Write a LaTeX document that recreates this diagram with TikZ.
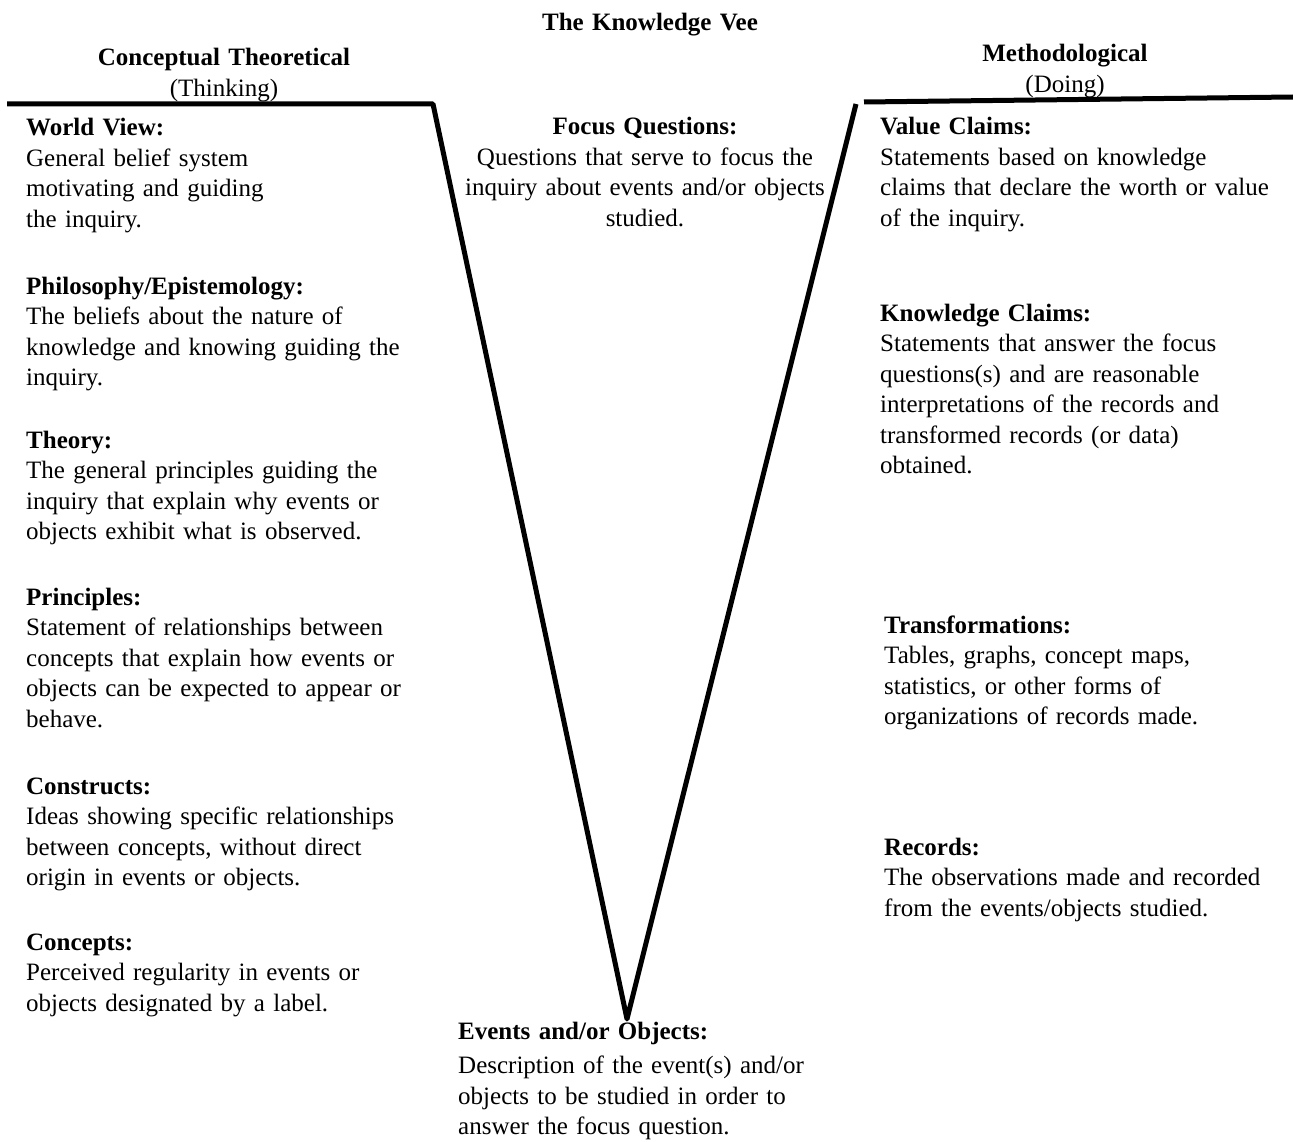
\documentclass[tikz,border=0pt]{standalone}
\usepackage{fontspec}
\setmainfont{Liberation Serif}
\begin{document}
\begin{tikzpicture}[x=1pt,y=-1pt,
  txt/.style={inner sep=0pt, anchor=base west, text width=430pt, align=left, font=\fontsize{25}{30.5}\selectfont},
  ctxt/.style={inner sep=0pt, anchor=base, text width=500pt, align=center, font=\fontsize{25}{30.5}\selectfont},
  vee/.style={line width=5pt, line join=round},
  bar/.style={line width=5pt}]
\useasboundingbox[fill=white] (0,0) rectangle (1293,1142);

% Vee corners
\coordinate (hl) at (7,104);
\coordinate (tl) at (433,104);
\coordinate (ap) at (627,1019);
\coordinate (tr) at (856,104);
\coordinate (hr1) at (864,102);
\coordinate (hr2) at (1293,97);
\draw[vee] (hl) -- (tl) -- (ap) -- (tr);
\draw[bar] (hr1) -- (hr2);

% headers
\node[ctxt] (title) at (650,31) {\textbf{The Knowledge Vee}};
\node[ctxt] (ct) at (224,66) {\textbf{Conceptual Theoretical}\\(Thinking)};
\node[ctxt] (me) at (1065,62) {\textbf{Methodological}\\(Doing)};

% left column
\node[txt] (wv) at (26,136) {\textbf{World View:}\\General belief system\\motivating and guiding\\the inquiry.};
\node[txt] (ph) at (26,294) {\textbf{Philosophy/Epistemology:}\\The beliefs about the nature of\\knowledge and knowing guiding the\\inquiry.};
\node[txt] (th) at (26,448) {\textbf{Theory:}\\The general principles guiding the\\inquiry that explain why events or\\objects exhibit what is observed.};
\node[txt] (pr) at (26,605) {\textbf{Principles:}\\Statement of relationships between\\concepts that explain how events or\\objects can be expected to appear or\\behave.};
\node[txt] (cs) at (26,794) {\textbf{Constructs:}\\Ideas showing specific relationships\\between concepts, without direct\\origin in events or objects.};
\node[txt] (cc) at (26,950) {\textbf{Concepts:}\\Perceived regularity in events or\\objects designated by a label.};

% centre
\node[ctxt] (fq) at (645,135) {\textbf{Focus Questions:}\\Questions that serve to focus the\\inquiry about events and/or objects\\studied.};
\node[txt] (eo) at (458,1039) {\textbf{Events and/or Objects:}\\[4pt]Description of the event(s) and/or\\objects to be studied in order to\\answer the focus question.};

% right column
\node[txt] (vc) at (880,135) {\textbf{Value Claims:}\\Statements based on knowledge\\claims that declare the worth or value\\of the inquiry.};
\node[txt] (kc) at (880,321) {\textbf{Knowledge Claims:}\\Statements that answer the focus\\questions(s) and are reasonable\\interpretations of the records and\\transformed records (or data)\\obtained.};
\node[txt] (tf) at (884,633) {\textbf{Transformations:}\\Tables, graphs, concept maps,\\statistics, or other forms of\\organizations of records made.};
\node[txt] (rc) at (884,855) {\textbf{Records:}\\The observations made and recorded\\from the events/objects studied.};
\end{tikzpicture}
\end{document}
